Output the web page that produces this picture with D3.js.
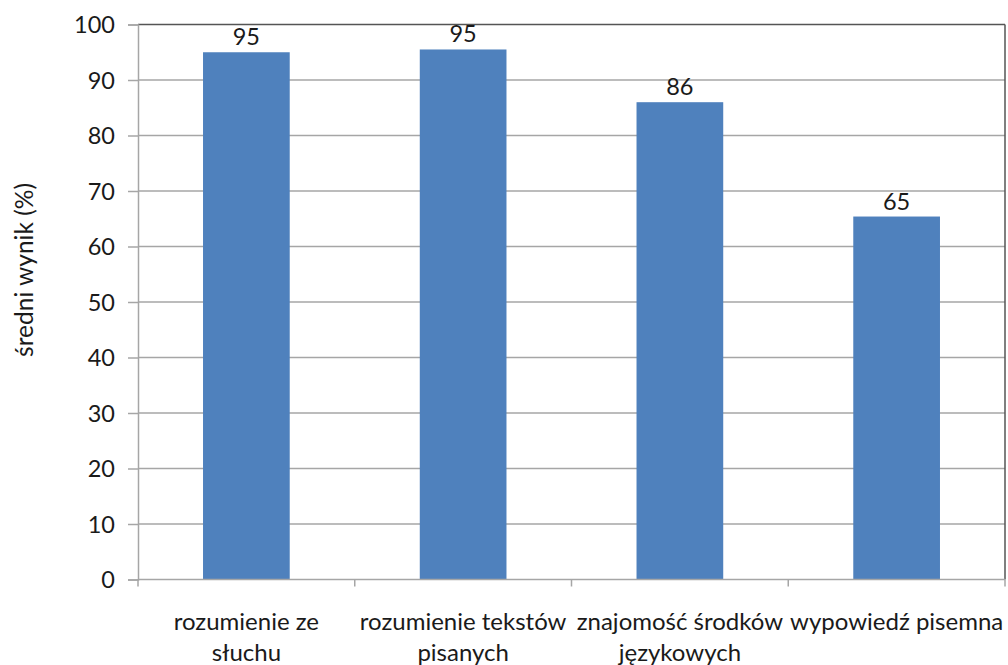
<!DOCTYPE html>
<html><head><meta charset="utf-8">
<script src="https://cdn.jsdelivr.net/npm/d3@7"></script>
<style>body{margin:0;background:#fff}svg{display:block}text{font-family:Lato,"Open Sans",sans-serif;fill:#1a1a1a}</style>
</head><body><svg id="c" width="1008" height="665"></svg>
<script>
const categories = [["rozumienie ze","słuchu"],["rozumienie tekstów","pisanych"],["znajomość środków","językowych"],["wypowiedź pisemna"]];
const values = [95.0, 95.5, 86.0, 65.4];
const valueLabels = ["95","95","86","65"];
const yTicks = [0,10,20,30,40,50,60,70,80,90,100];
const yTitle = "średni wynik (%)";

const svg = d3.select("#c");
const L=138, R=1005, T=24.5, B=579.5;
const x = d3.scaleBand().domain(d3.range(categories.length)).range([L,R]).paddingInner(0.6).paddingOuter(0.3);
const y = d3.scaleLinear().domain([0,100]).range([B,T]);
const xb = d3.scaleBand().domain(d3.range(categories.length)).range([L,R]);

// gridlines
svg.append("g").selectAll("line").data(yTicks.filter(d=>d>0)).join("line")
  .attr("x1",L).attr("x2",R).attr("y1",d=>y(d)).attr("y2",d=>y(d))
  .attr("stroke",d=>d===100?"#555":"#a6a6a6").attr("stroke-width",1.5);
// right border
svg.append("line").attr("x1",R).attr("x2",R).attr("y1",T).attr("y2",B).attr("stroke","#555").attr("stroke-width",1.5);

// bars
svg.append("g").selectAll("rect").data(values).join("rect")
  .attr("x",(d,i)=>x(i)).attr("width",x.bandwidth())
  .attr("y",d=>y(d)).attr("height",d=>B-y(d)).attr("fill","#4f81bd");

// value labels
svg.append("g").selectAll("text").data(values).join("text")
  .attr("x",(d,i)=>x(i)+x.bandwidth()/2).attr("y",d=>y(d)-7)
  .attr("text-anchor","middle").attr("font-size",23.5).text((d,i)=>valueLabels[i]);

// y axis
const ya = svg.append("g").attr("transform",`translate(${L},0)`)
  .call(d3.axisLeft(y).tickValues(yTicks).tickSize(10).tickPadding(13));
ya.select(".domain").attr("stroke","#a6a6a6").attr("stroke-width",1.5);
ya.selectAll(".tick line").attr("stroke","#a6a6a6").attr("stroke-width",1.5);
ya.selectAll(".tick text").attr("font-size",23.5).attr("font-family","Lato,sans-serif").attr("fill","#1a1a1a").attr("dy","0.34em");

// x axis
const xa = svg.append("g").attr("transform",`translate(0,${B})`);
xa.append("line").attr("x1",L).attr("x2",R).attr("stroke","#a6a6a6").attr("stroke-width",1.5);
xa.selectAll("line.t").data(d3.range(categories.length+1)).join("line").attr("class","t")
  .attr("x1",i=>L+i*xb.step()).attr("x2",i=>L+i*xb.step()).attr("y1",0).attr("y2",7)
  .attr("stroke","#a6a6a6").attr("stroke-width",1.5);
const lbl = svg.append("g").selectAll("text").data(categories).join("text")
  .attr("text-anchor","middle").attr("font-size",24)
  .attr("transform",(d,i)=>`translate(${xb(i)+xb.bandwidth()/2},630)`);
lbl.selectAll("tspan").data(d=>d).join("tspan").attr("x",0).attr("dy",(d,j)=>j===0?0:31).text(d=>d);

// y title
svg.append("text").attr("transform",`translate(33,270) rotate(-90)`)
  .attr("text-anchor","middle").attr("font-size",24.5).text(yTitle);
</script></body></html>
